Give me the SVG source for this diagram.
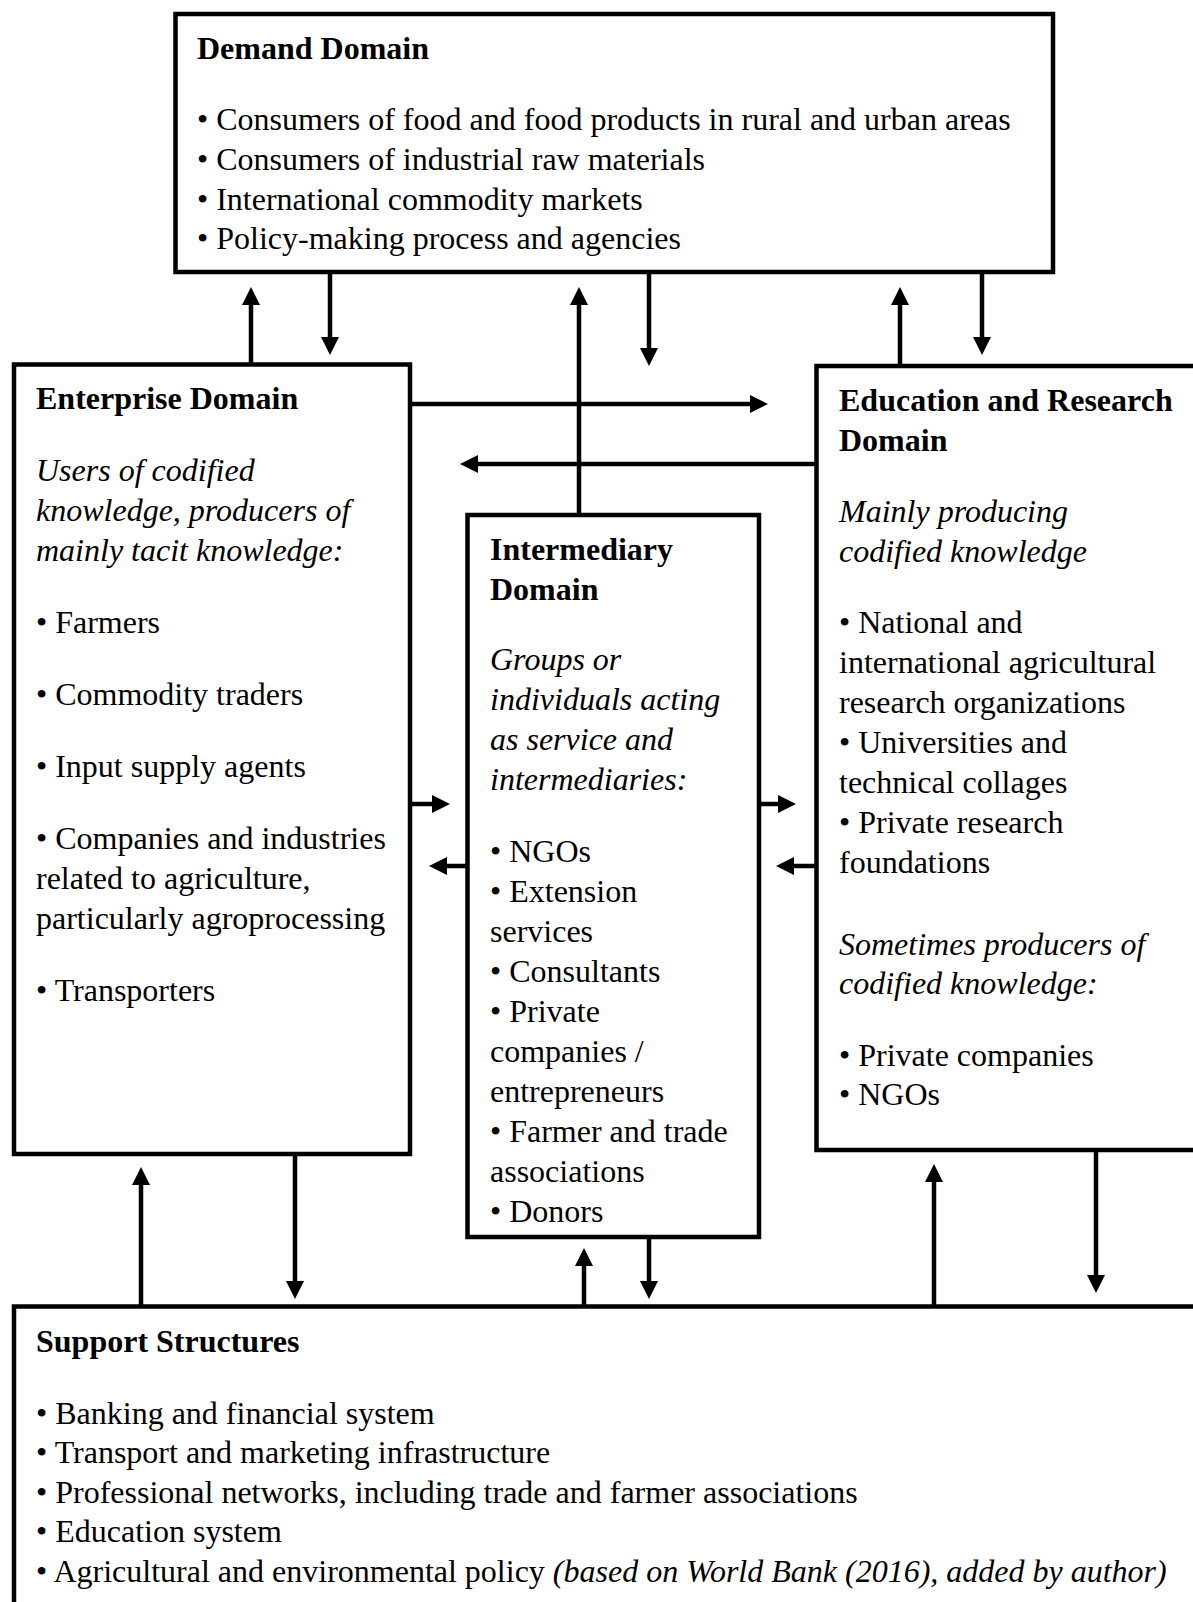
<svg xmlns="http://www.w3.org/2000/svg" width="1193" height="1602" viewBox="0 0 1193 1602">
<style>
.box{fill:#fff;stroke:#000;stroke-width:4.5}
.t{font-family:"Liberation Serif","Times New Roman",serif;font-size:32px;fill:#000}
.b{font-weight:bold}
.i{font-style:italic}
.c{stroke:#000;stroke-width:4.5;fill:none;marker-end:url(#ah)}
</style>
<defs>
<marker id="ah" markerUnits="userSpaceOnUse" markerWidth="18" markerHeight="18" refX="10" refY="9" orient="auto">
<path d="M0,0 L18,9 L0,18 z" fill="#000"/>
</marker>
</defs>
<rect width="1193" height="1602" fill="#fff"/>
<g id="connectors">
<line class="c" x1="251" y1="364" x2="251" y2="295"/>
<line class="c" x1="330" y1="272" x2="330" y2="347"/>
<line class="c" x1="579" y1="515" x2="579" y2="295"/>
<line class="c" x1="649" y1="272" x2="649" y2="358"/>
<line class="c" x1="900" y1="366" x2="900" y2="295"/>
<line class="c" x1="982" y1="272" x2="982" y2="347"/>
<line class="c" x1="410" y1="404" x2="760" y2="404"/>
<line class="c" x1="816" y1="464" x2="468" y2="464"/>
<line class="c" x1="410" y1="804" x2="442" y2="804"/>
<line class="c" x1="467" y1="866" x2="437" y2="866"/>
<line class="c" x1="759" y1="804" x2="788" y2="804"/>
<line class="c" x1="816" y1="866" x2="784" y2="866"/>
<line class="c" x1="141" y1="1306" x2="141" y2="1175"/>
<line class="c" x1="295" y1="1154" x2="295" y2="1291"/>
<line class="c" x1="584" y1="1306" x2="584" y2="1256"/>
<line class="c" x1="649" y1="1237" x2="649" y2="1291"/>
<line class="c" x1="934" y1="1306" x2="934" y2="1172"/>
<line class="c" x1="1096" y1="1150" x2="1096" y2="1285"/>
</g>
<g id="demand">
<rect class="box" x="175.5" y="14" width="877.5" height="258"/>
<text class="t b" x="197" y="59">Demand Domain</text>
<text class="t" x="197" y="130">• Consumers of food and food products in rural and urban areas</text>
<text class="t" x="197" y="170">• Consumers of industrial raw materials</text>
<text class="t" x="197" y="210">• International commodity markets</text>
<text class="t" x="197" y="249">• Policy-making process and agencies</text>
</g>
<g id="enterprise">
<rect class="box" x="14" y="364.5" width="396" height="789.5"/>
<text class="t b" x="36" y="409">Enterprise Domain</text>
<text class="t i" x="36" y="481">Users of codified</text>
<text class="t i" x="36" y="521">knowledge, producers of</text>
<text class="t i" x="36" y="561">mainly tacit knowledge:</text>
<text class="t" x="36" y="633">• Farmers</text>
<text class="t" x="36" y="705">• Commodity traders</text>
<text class="t" x="36" y="777">• Input supply agents</text>
<text class="t" x="36" y="849">• Companies and industries</text>
<text class="t" x="36" y="889">related to agriculture,</text>
<text class="t" x="36" y="929">particularly agroprocessing</text>
<text class="t" x="36" y="1001">• Transporters</text>
</g>
<g id="education">
<rect class="box" x="816.5" y="366" width="400" height="784"/>
<text class="t b" x="839" y="411">Education and Research</text>
<text class="t b" x="839" y="451">Domain</text>
<text class="t i" x="839" y="522">Mainly producing</text>
<text class="t i" x="839" y="562">codified knowledge</text>
<text class="t" x="839" y="633">• National and</text>
<text class="t" x="839" y="673">international agricultural</text>
<text class="t" x="839" y="713">research organizations</text>
<text class="t" x="839" y="753">• Universities and</text>
<text class="t" x="839" y="793">technical collages</text>
<text class="t" x="839" y="833">• Private research</text>
<text class="t" x="839" y="873">foundations</text>
<text class="t i" x="839" y="955">Sometimes producers of</text>
<text class="t i" x="839" y="994">codified knowledge:</text>
<text class="t" x="839" y="1066">• Private companies</text>
<text class="t" x="839" y="1105">• NGOs</text>
</g>
<g id="intermediary">
<rect class="box" x="467.5" y="515" width="291.5" height="722"/>
<text class="t b" x="490" y="560">Intermediary</text>
<text class="t b" x="490" y="600">Domain</text>
<text class="t i" x="490" y="670">Groups or</text>
<text class="t i" x="490" y="710">individuals acting</text>
<text class="t i" x="490" y="750">as service and</text>
<text class="t i" x="490" y="790">intermediaries:</text>
<text class="t" x="490" y="862">• NGOs</text>
<text class="t" x="490" y="902">• Extension</text>
<text class="t" x="490" y="942">services</text>
<text class="t" x="490" y="982">• Consultants</text>
<text class="t" x="490" y="1022">• Private</text>
<text class="t" x="490" y="1062">companies /</text>
<text class="t" x="490" y="1102">entrepreneurs</text>
<text class="t" x="490" y="1142">• Farmer and trade</text>
<text class="t" x="490" y="1182">associations</text>
<text class="t" x="490" y="1222">• Donors</text>
</g>
<g id="support">
<rect class="box" x="14" y="1306.5" width="1200" height="400"/>
<text class="t b" x="36" y="1352">Support Structures</text>
<text class="t" x="36" y="1424">• Banking and financial system</text>
<text class="t" x="36" y="1463">• Transport and marketing infrastructure</text>
<text class="t" x="36" y="1503">• Professional networks, including trade and farmer associations</text>
<text class="t" x="36" y="1542">• Education system</text>
<text class="t" x="36" y="1582">• Agricultural and environmental policy <tspan class="i">(based on World Bank (2016), added by author)</tspan></text>
</g>
</svg>
